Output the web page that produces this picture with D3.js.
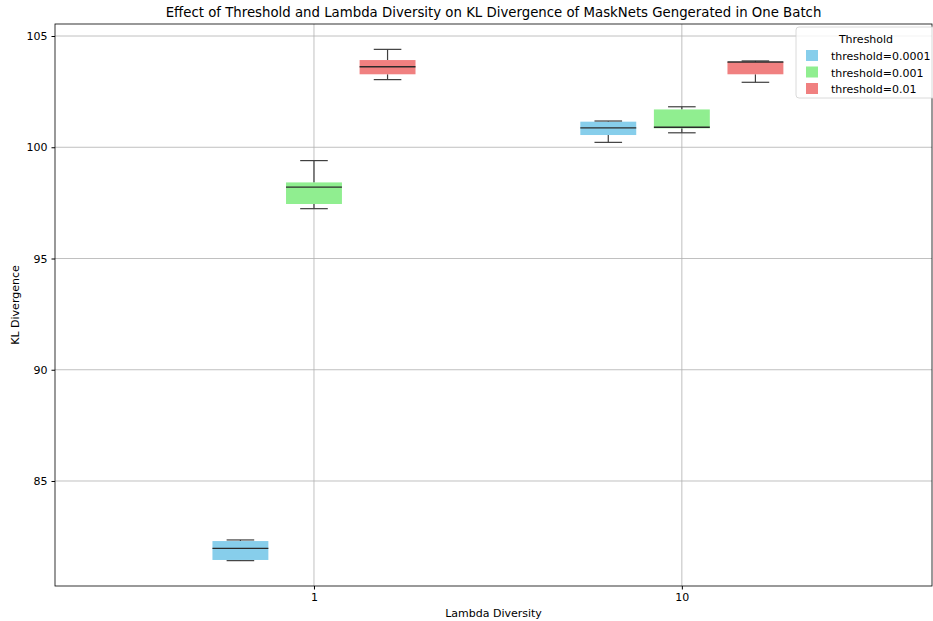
<!DOCTYPE html>
<html>
<head>
<meta charset="utf-8">
<script src="https://cdn.jsdelivr.net/npm/d3@7"></script>
<style>
  body { margin: 0; background: #fff; }
  text { font-family: "DejaVu Sans", sans-serif; fill: #000; }
</style>
</head>
<body>
<div id="chart"></div>
<script>
// Categories
var lambdas = ["1", "10"];
var thresholds = ["threshold=0.0001", "threshold=0.001", "threshold=0.01"];
var colors = ["#87CEEB", "#90EE90", "#F08080"];

// Box stats per threshold, one entry per lambda: [low whisker, q1, median, q3, high whisker]
var statsT0001 = [[81.42, 81.45, 81.97, 82.30, 82.35], [100.22, 100.55, 100.87, 101.15, 101.18]];
var statsT001 = [[97.24, 97.45, 98.21, 98.42, 99.40], [100.65, 100.85, 100.90, 101.70, 101.82]];
var statsT01 = [[103.04, 103.28, 103.62, 103.92, 104.40], [102.92, 103.28, 103.83, 103.83, 103.88]];
var allStats = [statsT0001, statsT001, statsT01];

var yTicks = [85, 90, 95, 100, 105];

// Figure size
var width = 933;
var height = 621;

// Plot area
var plotLeft = 55, plotRight = 932, plotTop = 24, plotBottom = 586;
var fontSize = "11px";

var svg = d3.select("#chart")
  .append("svg")
  .attr("width", width)
  .attr("height", height);

// Scales
var xScale = d3.scaleLinear().domain([-0.704, 1.68]).range([plotLeft, plotRight]);
var yScale = d3.scaleLinear().domain([80.28, 105.54]).range([plotBottom, plotTop]);

var hueOffset = 0.2;
var boxW = 0.152;
var capW = 0.075;

// Grid lines
svg.append("g")
  .selectAll("line")
  .data(yTicks)
  .enter()
  .append("line")
  .attr("x1", plotLeft).attr("x2", plotRight)
  .attr("y1", function(d) { return yScale(d); })
  .attr("y2", function(d) { return yScale(d); })
  .attr("stroke", "#b0b0b0").attr("stroke-width", 0.8);

svg.append("g")
  .selectAll("line")
  .data(lambdas)
  .enter()
  .append("line")
  .attr("x1", function(d, i) { return xScale(i); })
  .attr("x2", function(d, i) { return xScale(i); })
  .attr("y1", plotTop).attr("y2", plotBottom)
  .attr("stroke", "#b0b0b0").attr("stroke-width", 0.8);

// Boxes
allStats.forEach(function(stats, h) {
  var g = svg.append("g");
  stats.forEach(function(s, i) {
    var cx = i + (h - 1) * hueOffset;
    // whiskers
    g.append("line")
      .attr("x1", xScale(cx)).attr("x2", xScale(cx))
      .attr("y1", yScale(s[0])).attr("y2", yScale(s[1]))
      .attr("stroke", "#3f3f3f").attr("stroke-width", 1.2);
    g.append("line")
      .attr("x1", xScale(cx)).attr("x2", xScale(cx))
      .attr("y1", yScale(s[3])).attr("y2", yScale(s[4]))
      .attr("stroke", "#3f3f3f").attr("stroke-width", 1.2);
    // box
    g.append("rect")
      .attr("x", xScale(cx - boxW / 2))
      .attr("y", yScale(s[3]))
      .attr("width", xScale(cx + boxW / 2) - xScale(cx - boxW / 2))
      .attr("height", yScale(s[1]) - yScale(s[3]))
      .attr("fill", colors[h]);
    // caps
    [s[0], s[4]].forEach(function(v) {
      g.append("line")
        .attr("x1", xScale(cx - capW / 2)).attr("x2", xScale(cx + capW / 2))
        .attr("y1", yScale(v)).attr("y2", yScale(v))
        .attr("stroke", "#3f3f3f").attr("stroke-width", 1.2);
    });
    // median
    g.append("line")
      .attr("x1", xScale(cx - boxW / 2)).attr("x2", xScale(cx + boxW / 2))
      .attr("y1", yScale(s[2])).attr("y2", yScale(s[2]))
      .attr("stroke", "#2b2b2b").attr("stroke-width", 1.4);
  });
});

// Axes
var xAxis = d3.axisBottom(xScale)
  .tickValues([0, 1])
  .tickFormat(function(d) { return lambdas[d]; })
  .tickSizeOuter(0)
  .tickSize(3.5)
  .tickPadding(4);
var yAxis = d3.axisLeft(yScale)
  .tickValues(yTicks)
  .tickSizeOuter(0)
  .tickSize(3.5)
  .tickPadding(4);

svg.append("g")
  .attr("transform", "translate(0," + plotBottom + ")")
  .call(xAxis)
  .call(function(g) {
    g.select(".domain").remove();
    g.selectAll("text").attr("font-size", fontSize).attr("font-family", "DejaVu Sans");
  });

svg.append("g")
  .attr("transform", "translate(" + plotLeft + ",0)")
  .call(yAxis)
  .call(function(g) {
    g.select(".domain").remove();
    g.selectAll("text").attr("font-size", fontSize).attr("font-family", "DejaVu Sans");
  });

// Frame
svg.append("rect")
  .attr("x", plotLeft).attr("y", plotTop)
  .attr("width", plotRight - plotLeft).attr("height", plotBottom - plotTop)
  .attr("fill", "none").attr("stroke", "#000").attr("stroke-width", 0.8);

// Title
svg.append("text")
  .attr("x", (plotLeft + plotRight) / 2)
  .attr("y", 17)
  .attr("text-anchor", "middle")
  .attr("font-size", "13.3px")
  .text("Effect of Threshold and Lambda Diversity on KL Divergence of MaskNets Gengerated in One Batch");

// Axis labels
svg.append("text")
  .attr("x", (plotLeft + plotRight) / 2)
  .attr("y", 617)
  .attr("text-anchor", "middle")
  .attr("font-size", fontSize)
  .text("Lambda Diversity");

svg.append("text")
  .attr("transform", "translate(19," + (plotTop + plotBottom) / 2 + ") rotate(-90)")
  .attr("text-anchor", "middle")
  .attr("font-size", fontSize)
  .text("KL Divergence");

// Legend
var legend = svg.append("g").attr("transform", "translate(796,27)");
legend.append("rect")
  .attr("x", 0).attr("y", 0)
  .attr("width", 150).attr("height", 71)
  .attr("rx", 3)
  .attr("fill", "#fff").attr("fill-opacity", 0.8)
  .attr("stroke", "#d0d0d0").attr("stroke-width", 0.8);
legend.append("text")
  .attr("x", 70).attr("y", 16)
  .attr("text-anchor", "middle")
  .attr("font-size", fontSize)
  .text("Threshold");
thresholds.forEach(function(t, i) {
  legend.append("rect")
    .attr("x", 10).attr("y", 23 + i * 16.5)
    .attr("width", 12).attr("height", 11)
    .attr("fill", colors[i]);
  legend.append("text")
    .attr("x", 35).attr("y", 33 + i * 16.5)
    .attr("font-size", fontSize)
    .text(t);
});
</script>
</body>
</html>
